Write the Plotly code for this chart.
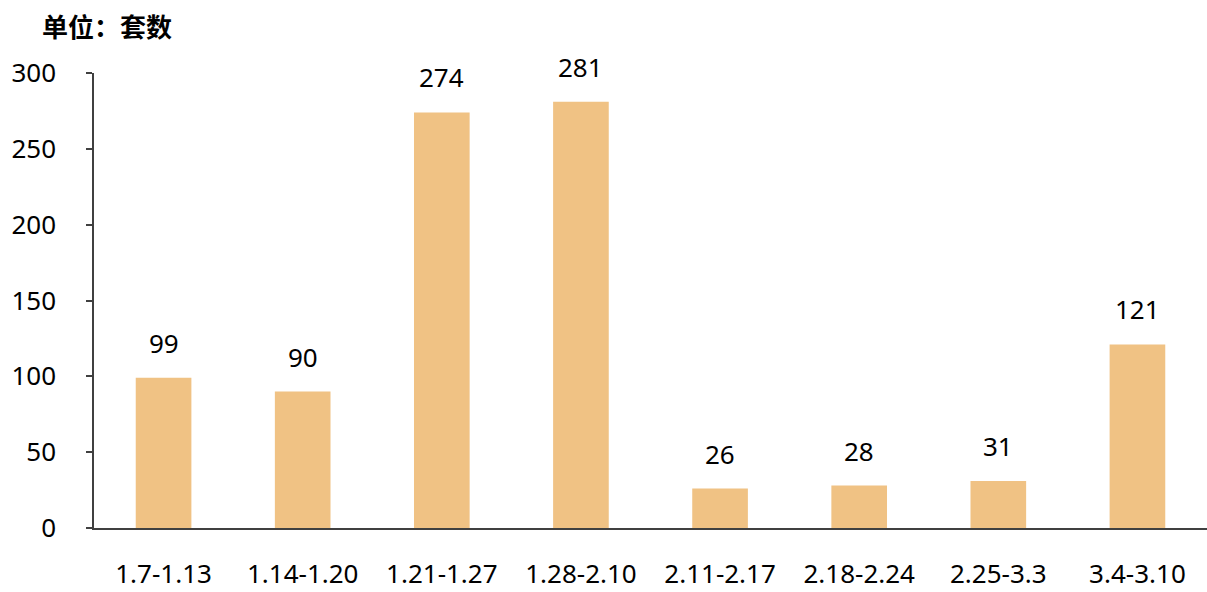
import plotly.graph_objects as go

categories = ["1.7-1.13", "1.14-1.20", "1.21-1.27", "1.28-2.10", "2.11-2.17", "2.18-2.24", "2.25-3.3", "3.4-3.10"]
values = [99, 90, 274, 281, 26, 28, 31, 121]
y_ticks = [0, 50, 100, 150, 200, 250, 300]

FONT = "Noto Sans, Noto Sans CJK SC, sans-serif"
CJK = "Noto Sans CJK SC, sans-serif"

fig = go.Figure()
fig.add_trace(go.Bar(
    x=categories, y=values,
    marker=dict(color="#F0C284", line=dict(width=0)),
    width=0.4,
))

for c, v in zip(categories, values):
    fig.add_annotation(x=c, y=v, text=str(v), showarrow=False,
                       yanchor="bottom", yshift=15,
                       font=dict(family=FONT, size=26, color="#000000"))

fig.add_annotation(xref="paper", yref="paper", x=-0.0485, y=1.0, yshift=48,
                   xanchor="left", yanchor="middle", showarrow=False,
                   text="<b>单位：套数</b>",
                   font=dict(family=CJK, size=26, color="#000000"))
fig.update_layout(
    width=1207, height=592,
    margin=dict(l=94, r=0, t=73, b=64, autoexpand=False),
    paper_bgcolor="white", plot_bgcolor="white",
    showlegend=False,
    font=dict(family=FONT, size=26, color="#000000"),
    xaxis=dict(
        showline=True, linecolor="#404040", linewidth=1.5,
        ticks="", tickfont=dict(size=26), ticklabelstandoff=22,
        showgrid=False, automargin=False,
    ),
    yaxis=dict(
        range=[0, 300], tickvals=y_ticks,
        showline=True, linecolor="#404040", linewidth=1.5,
        ticks="outside", ticklen=6, tickcolor="#404040", tickwidth=1.5,
        tickfont=dict(size=26), ticklabelstandoff=25,
        showgrid=False, zeroline=False, automargin=False,
    ),
)

fig.write_html("out.html")
